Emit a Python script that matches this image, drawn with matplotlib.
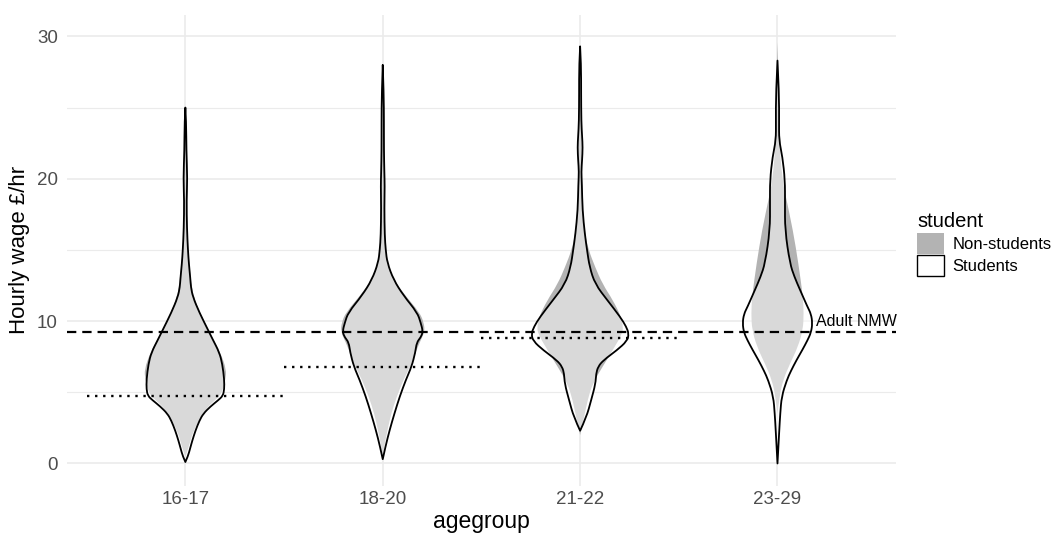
import matplotlib as mpl
mpl.use("agg")
import matplotlib.pyplot as plt
from matplotlib.patches import Patch, PathPatch
from matplotlib.path import Path
import numpy as np

plt.rcParams['font.family'] = ['Liberation Sans', 'DejaVu Sans']
plt.rcParams['lines.scale_dashes'] = False

groups = ["16-17", "18-20", "21-22", "23-29"]
adult_nmw = 9.2
youth_rates = [4.75, 6.78, 8.78]   # dotted band per age group (none for 23-29)

# violin half-widths (in category units) read at wage levels, per group
nonstud_y = [
    [24.8, 22, 20, 17, 15, 14, 13, 12.4, 11.7, 10.6, 9.4, 8.7, 7.8, 6.6, 5.9, 5.2, 4.8, 4.4, 4.0, 3.5, 2.3, 1.15, 0.45],
    [27.8, 24, 20, 16, 15, 14.1, 12.9, 11.8, 10.6, 9.9, 9.25, 8.5, 7.8, 6.8, 5.9, 4.7, 3.5, 2.35, 1.2, 0.5],
    [29.0, 26, 22, 19.6, 17.8, 16.1, 15.0, 13.8, 12.6, 11.45, 10.3, 9.6, 9.1, 7.95, 6.8, 5.6, 4.45, 3.25, 2.0],
    [29.6, 27, 24, 22.7, 19.9, 18.7, 16.4, 14.05, 11.7, 10.5, 9.4, 8.2, 7.0, 5.85, 4.7, 3.5],
]
nonstud_w = [
    [0, .004, .008, .006, .013, .020, .028, .033, .043, .073, .116, .142, .177, .208, .203, .190, .177, .147, .116, .089, .040, .017, 0],
    [0, .005, .008, .010, .015, .023, .056, .114, .187, .208, .213, .187, .167, .139, .106, .071, .043, .024, .008, 0],
    [0, .005, .008, .010, .013, .025, .043, .076, .114, .167, .208, .218, .213, .165, .114, .063, .038, .020, 0],
    [0, .005, .007, .008, .025, .043, .078, .106, .129, .133, .129, .104, .063, .028, .010, 0],
]
stud_y = [
    [25.0, 24.0, 22.0, 20.0, 18.5, 16.5, 15.0, 14.0, 13.0, 12.4, 11.7, 10.6, 9.4, 8.7, 7.8, 7.0, 5.9, 5.2, 4.75, 4.45, 4.0, 3.5, 3.0, 2.3, 1.6, 1.1, 0.5, 0.1],
    [28.0, 26, 24, 22, 20.5, 19.5, 18, 16, 15, 14.1, 12.9, 11.8, 10.6, 9.9, 9.25, 8.85, 8.5, 7.8, 6.8, 5.9, 4.7, 3.5, 2.35, 1.2, 0.3],
    [29.3, 28, 26, 24, 23, 22.2, 21.3, 20.5, 19.6, 17.8, 16.1, 15.0, 13.8, 12.6, 11.45, 10.3, 9.6, 9.1, 8.6, 7.95, 7.25, 6.8, 6.3, 5.6, 4.45, 3.25, 2.3],
    [28.3, 26, 24, 22.7, 21.55, 19.9, 18.3, 16.4, 14.05, 13.1, 12.2, 11.0, 10.5, 9.85, 9.2, 8.65, 8.0, 7.25, 6.5, 5.85, 4.7, 3.5, 2.35, 0.0],
]
stud_w = [
    [0, .004, .005, .010, .006, .008, .013, .018, .025, .028, .038, .071, .114, .139, .172, .187, .197, .197, .190, .167, .127, .091, .071, .051, .035, .025, .013, 0],
    [0, .005, .006, .006, .008, .010, .008, .010, .015, .023, .055, .105, .175, .192, .204, .192, .172, .165, .146, .118, .086, .059, .035, .014, 0],
    [0, .005, .005, .006, .010, .013, .010, .006, .009, .012, .024, .035, .048, .076, .139, .203, .234, .247, .238, .186, .118, .091, .081, .078, .056, .032, 0],
    [0, .008, .008, .008, .025, .038, .038, .038, .063, .086, .114, .152, .170, .177, .170, .152, .127, .096, .068, .047, .021, .014, .009, 0],
]


def side_path(xs, ys):
    # quadratic curves through the midpoints, tips kept exact
    verts = [(xs[0], ys[0])]
    codes = [Path.LINETO]
    n = len(xs)
    for k in range(1, n - 1):
        mx = (xs[k] + xs[k + 1]) / 2 if k < n - 2 else xs[k + 1]
        my = (ys[k] + ys[k + 1]) / 2 if k < n - 2 else ys[k + 1]
        verts += [(xs[k], ys[k]), (mx, my)]
        codes += [Path.CURVE3, Path.CURVE3]
    return verts, codes


def violin(ax, x, y, w, **kw):
    y = np.array(y)
    w = np.array(w)
    lv, lc = side_path(x - w, y)
    rv, rc = side_path((x + w)[::-1], y[::-1])
    verts = lv + rv[1:] + [lv[0]]
    codes = [Path.MOVETO] + lc[1:] + rc[1:] + [Path.CLOSEPOLY]
    ax.add_patch(PathPatch(Path(verts, codes), **kw))


fig = plt.figure(figsize=(10.56, 5.34), dpi=100)
ax = fig.add_axes([0.0634, 0.0908, 0.785, 0.881])

xs = np.arange(1, len(groups) + 1)
for i, x in enumerate(xs):
    violin(ax, x, nonstud_y[i], nonstud_w[i],
           facecolor="#b3b3b3", edgecolor="none", zorder=2)
for i, x in enumerate(xs):
    violin(ax, x, stud_y[i], stud_w[i],
           facecolor=(1, 1, 1, 0.5), edgecolor="black", linewidth=1.3,
           joinstyle="round", zorder=3)

ax.axhline(adult_nmw, color="black", linewidth=1.6, dashes=(6.7, 4.3), zorder=4)
for x, r in zip(xs, youth_rates):
    ax.plot([x - 0.5, x + 0.5], [r, r], color="black", linewidth=1.7,
            dashes=(1.7, 4.1), zorder=4)
ax.text(4.4, 9.95, "Adult NMW", ha="center", va="center", fontsize=11.5,
        color="black", zorder=5)

ax.set_xlim(0.4, 4.6)
ax.set_ylim(-1.55, 31.5)
ax.set_xticks(xs)
ax.set_xticklabels(groups)
ax.set_yticks([0, 10, 20, 30])
ax.set_yticks([5, 15, 25], minor=True)
ax.grid(True, which="major", color="#ebebeb", linewidth=1.2, zorder=0)
ax.grid(True, which="minor", axis="y", color="#ebebeb", linewidth=0.8, zorder=0)
ax.set_axisbelow(True)
for s in ax.spines.values():
    s.set_visible(False)
ax.tick_params(which="both", length=0)
ax.tick_params(axis="y", pad=6.5, labelsize=13.5, labelcolor="#4d4d4d")
ax.tick_params(axis="x", pad=4, labelsize=13.5, labelcolor="#4d4d4d")

ax.set_ylabel("Hourly wage £/hr", fontsize=16, va="center")
ax.yaxis.set_label_coords(-0.057, 0.5)
ax.set_xlabel("agegroup", fontsize=16.5, va="baseline")
ax.xaxis.set_label_coords(0.5, -0.09)

handles = [Patch(facecolor="#b3b3b3", edgecolor="none", label="Non-students"),
           Patch(facecolor="white", edgecolor="black", linewidth=1.0, label="Students")]
leg = fig.legend(handles=handles, title="student", loc="upper left",
                 bbox_to_anchor=(0.862, 0.615), frameon=False, fontsize=12,
                 title_fontsize=14.5, handlelength=1.6, handleheight=1.55,
                 handletextpad=0.55, labelspacing=0.1, borderaxespad=0)
leg._legend_box.align = "left"

fig.savefig("out.png", dpi=100)
